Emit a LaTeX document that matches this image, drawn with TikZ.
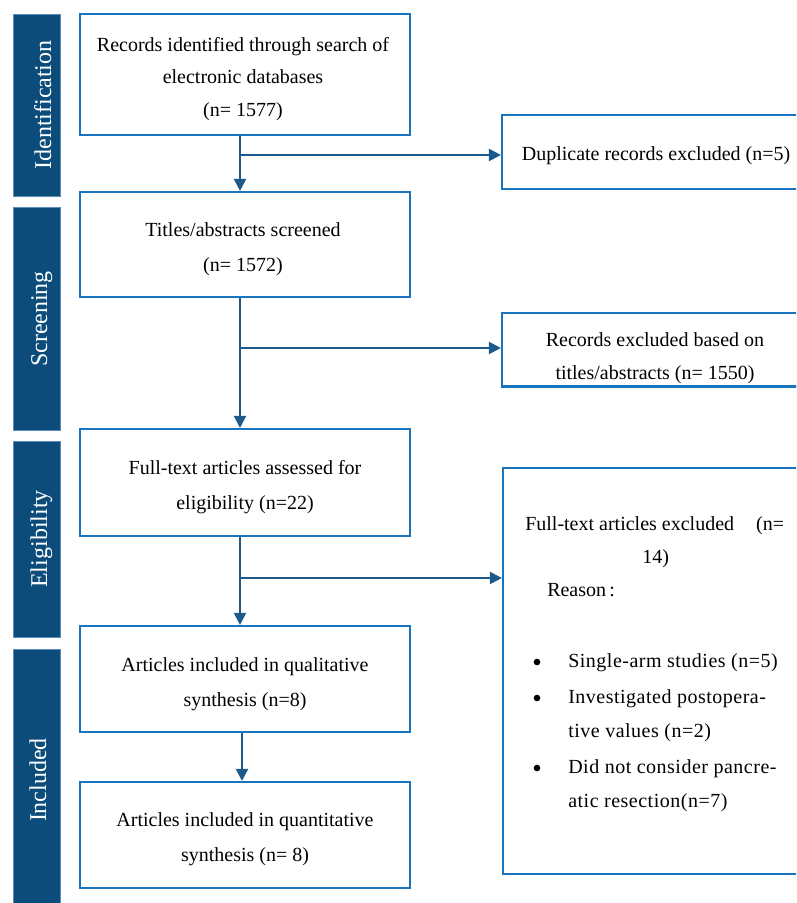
\documentclass[tikz,border=0pt]{standalone}
\usepackage{fontspec}
\setmainfont{Liberation Serif}
\newfontfamily\spacedserif[LetterSpace=2.5]{Liberation Serif}
\usetikzlibrary{arrows.meta,fit,calc}
\definecolor{boxblue}{HTML}{1874BE}
\definecolor{arrowblue}{HTML}{1C5A8C}
\definecolor{barblue}{HTML}{0B4C7A}
\definecolor{barline}{HTML}{5A8DB8}
\tikzset{
  box/.style={draw=boxblue, line width=1.6pt, fill=white, inner sep=0pt},
  boxtext/.style={align=center, inner sep=0pt, font=\fontsize{15pt}{26pt}\selectfont},
  sidebar/.style={draw=barline, line width=0.6pt, fill=barblue, inner sep=0pt},
  sidetext/.style={rotate=90, anchor=base, text=white, inner sep=0pt,
              font=\fontsize{18pt}{20pt}\selectfont},
  flow/.style={draw=arrowblue, line width=1.6pt, -{Triangle[length=9pt,width=9pt]}},
  txt/.style={anchor=base west, inner sep=0pt, font=\fontsize{15pt}{25pt}\selectfont},
  btxt/.style={anchor=base west, inner sep=0pt, font=\spacedserif\fontsize{15pt}{25pt}\selectfont},
  bul/.style={circle, fill=black, inner sep=0pt, minimum size=5pt},
}
\begin{document}
\begin{tikzpicture}[x=0.75pt,y=-0.75pt]
\useasboundingbox (0,0) rectangle (796,903);
\begin{scope}
\clip (0,0) rectangle (796,903);
% side bars
\node[sidebar, fit={(13,14)(60,196)}] (s1) {};
\node[sidetext] (s1t) at (51,105) {Identification};
\node[sidebar, fit={(13,207)(60,430)}] (s2) {};
\node[sidetext] (s2t) at (47,319) {Screening};
\node[sidebar, fit={(13,441)(60,637)}] (s3) {};
\node[sidetext] (s3t) at (47,539) {Eligibility};
\node[sidebar, fit={(13,649)(60,915)}] (s4) {};
\node[sidetext] (s4t) at (46,780) {Included};

% main boxes
\node[box, fit={(80,14)(410,135)}] (b1) {};
\node[boxtext, font=\fontsize{15pt}{24.5pt}\selectfont] (b1t) at (243,79)
  {Records identified through search of\\electronic databases\\(n= 1577)};
\node[box, fit={(80,192)(410,297)}] (b2) {};
\node[boxtext] (b2t) at (243,249)
  {Titles/abstracts screened\\(n= 1572)};
\node[box, fit={(80,429)(410,536)}] (b3) {};
\node[boxtext] (b3t) at (245,487)
  {Full-text articles assessed for\\eligibility (n=22)};
\node[box, fit={(80,626)(410,732)}] (b4) {};
\node[boxtext] (b4t) at (245,684)
  {Articles included in qualitative\\synthesis (n=8)};
\node[box, fit={(80,782)(410,888)}] (b5) {};
\node[boxtext] (b5t) at (245,839)
  {Articles included in quantitative\\synthesis (n= 8)};

% right boxes
\node[box, fit={(502,115)(812,189)}] (r1) {};
\node[boxtext] (r1t) at (656,156)
  {Duplicate records excluded (n=5)};
\node[box, fit={(502,313)(812,386)}] (r2) {};
\node[boxtext, font=\fontsize{15pt}{24.5pt}\selectfont] (r2t) at (655,358)
  {Records excluded based on\\titles/abstracts (n= 1550)};
\draw[boxblue, line width=1.6pt] (r2.south west) -- (r2.south east);
\node[box, fit={(503,468)(812,874)}] (r3) {};
\node[txt] (l1) at (525,530) {Full-text articles excluded\hspace{1.1em}(n=};
\node[txt] (l2) at (642,563) {14)};
\node[txt] (l3) at (547,596) {Reason\,:};
\node[bul] (d1) at (537,662) {};
\node[btxt] (l4) at (568,667) {Single-arm studies (n=5)};
\node[bul] (d2) at (537,698) {};
\node[btxt] (l5) at (568,703) {Investigated postopera-};
\node[btxt] (l6) at (568,737) {tive values (n=2)};
\node[bul] (d3) at (537,768) {};
\node[btxt] (l7) at (568,773) {Did not consider pancre-};
\node[btxt] (l8) at (568,807) {atic resection(n=7)};

% connectors
\coordinate (ax) at (240,0);
\coordinate (bx) at (242,0);
\coordinate (j1) at (240,155);
\coordinate (j2) at (240,348);
\coordinate (j3) at (240,578);
\draw[flow] (b1.south -| ax) -- (b2.north -| ax);
\draw[flow] (j1) -- (j1 -| r1.west);
\draw[flow] (b2.south -| ax) -- (b3.north -| ax);
\draw[flow] (j2) -- (j2 -| r2.west);
\draw[flow] (b3.south -| ax) -- (b4.north -| ax);
\draw[flow] (j3) -- (j3 -| r3.west);
\draw[flow] (b4.south -| bx) -- (b5.north -| bx);
\end{scope}
\end{tikzpicture}
\end{document}
